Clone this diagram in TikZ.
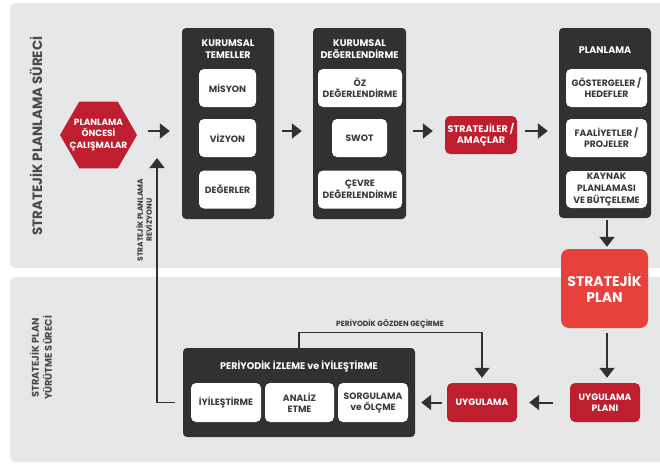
\documentclass[tikz,border=0pt]{standalone}
\usepackage{fontspec}
\setmainfont{Poppins}
\usetikzlibrary{arrows.meta,shapes.geometric}
\definecolor{panel}{HTML}{E6E7E8}
\definecolor{dark}{HTML}{323132}
\definecolor{dred}{HTML}{BE1E2D}
\definecolor{bred}{HTML}{E8403A}
\definecolor{txt}{HTML}{3A3A3A}
\definecolor{side}{HTML}{4A4A4A}
\newcommand{\fs}[2]{\fontsize{#1}{#2}\selectfont}
\begin{document}
\begin{tikzpicture}[x=1pt,y=-1pt,
  darkbox/.style={fill=dark, rounded corners=4pt, inner sep=0pt},
  wbox/.style={fill=white, rounded corners=5pt, inner sep=0pt, text=txt, align=center, font=\bfseries\fs{9.2}{11}, minimum height=38pt},
  rbox/.style={fill=dred, rounded corners=5pt, inner sep=0pt, text=white, align=center, font=\bfseries\fs{9.2}{11}, minimum height=38pt},
  dtitle/.style={text=white, align=center, font=\bfseries\fs{9.6}{11.5}, inner sep=0pt},
  arr/.style={draw=dark, line width=2pt, -{Triangle[width=15pt,length=10pt]}},
  conn/.style={draw=dark, line width=1.3pt, -{Triangle[width=15pt,length=10pt]}},
  sidet/.style={text=side, align=center, font=\bfseries, rotate=90, inner sep=0pt},
  small/.style={text=txt, align=center, font=\bfseries\fs{7.5}{9}, inner sep=0pt}
]
\useasboundingbox (0,0) rectangle (660,463);
\fill[white] (0,0) rectangle (660,463);
\fill[panel, rounded corners=6pt] (10,3) rectangle (690,268);
\fill[panel, rounded corners=6pt] (10,277) rectangle (690,462);

% side titles
\node[sidet, font=\bfseries\fs{13.5}{15}] (t1) at (36,136) {STRATEJİK PLANLAMA SÜRECİ};
\node[sidet, font=\bfseries\fs{9.8}{13}] (t2) at (41,358) {STRATEJİK PLAN\\YÜRÜTME SÜRECİ};

% hexagon
\node[regular polygon, regular polygon sides=6, minimum size=77pt, inner sep=0pt, fill=dred] (hex) at (98.5,135) {};
\node[text=white, align=center, font=\bfseries\fs{9}{11.5}, inner sep=0pt] (hext) at (hex.center) {PLANLAMA\\ÖNCESİ\\ÇALIŞMALAR};

% Kurumsal Temeller
\node[darkbox, minimum width=92pt, minimum height=191pt] (tem) at (228,123.5) {};
\node[dtitle] (temt) at (228,49) {KURUMSAL\\TEMELLER};
\node[wbox, minimum width=57pt] (mis) at (227.5,88) {MİSYON};
\node[wbox, minimum width=57pt] (viz) at (227.5,138) {VİZYON};
\node[wbox, minimum width=57pt] (deg) at (227.5,189.5) {DEĞERLER};

% Kurumsal Degerlendirme
\node[darkbox, minimum width=93pt, minimum height=191pt] (kd) at (359.5,123.5) {};
\node[dtitle] (kdt) at (359.5,49) {KURUMSAL\\DEĞERLENDİRME};
\node[wbox, minimum width=84pt] (oz) at (360,88) {ÖZ\\DEĞERLENDİRME};
\node[wbox, minimum width=55pt] (swot) at (359.5,138) {SWOT};
\node[wbox, minimum width=84pt] (cev) at (360,189.5) {ÇEVRE\\DEĞERLENDİRME};

% Stratejiler
\node[rbox, minimum width=72pt, font=\bfseries\fs{9.6}{11}] (str) at (481,135) {STRATEJİLER /\\AMAÇLAR};

% Planlama
\node[darkbox, minimum width=92pt, minimum height=190pt] (pl) at (605,123) {};
\node[dtitle] (plt) at (605,50) {PLANLAMA};
\node[wbox, minimum width=81pt] (gos) at (606.5,88) {GÖSTERGELER /\\HEDEFLER};
\node[wbox, minimum width=81pt] (faa) at (606.5,138) {FAALİYETLER /\\PROJELER};
\node[wbox, minimum width=81pt, minimum height=37pt, font=\bfseries\fs{9.2}{12}] (kay) at (606.5,189.5) {KAYNAK\\PLANLAMASI\\VE BÜTÇELEME};

% Stratejik plan
\node[fill=bred, rounded corners=8pt, minimum width=87pt, minimum height=79pt, text=white, align=center, font=\bfseries\fs{14}{16}, inner sep=0pt] (sp) at (604.5,288.5) {STRATEJİK\\PLAN};

% bottom row
\node[rbox, minimum width=70pt, minimum height=39pt] (up) at (605,402.5) {UYGULAMA\\PLANI};
\node[rbox, minimum width=70pt, minimum height=39pt] (uyg) at (482,402.5) {UYGULAMA};
\node[darkbox, minimum width=232pt, minimum height=89pt] (per) at (299,392.5) {};
\node[dtitle] (pert) at (299,366) {PERİYODİK İZLEME ve İYİLEŞTİRME};
\node[wbox, minimum width=70pt, minimum height=39pt] (iyi) at (226,402.5) {İYİLEŞTİRME};
\node[wbox, minimum width=69pt, minimum height=39pt] (ana) at (299.5,402.5) {ANALİZ\\ETME};
\node[wbox, minimum width=70pt, minimum height=39pt] (sor) at (373,402.5) {SORGULAMA\\ve ÖLÇME};

% arrows top row
\coordinate (row) at (0,131);
\draw[arr, shorten <=11pt, shorten >=12pt] (hex.east |- row) -- (tem.west |- row);
\draw[arr, shorten <=8pt, shorten >=11pt] (tem.east |- row) -- (kd.west |- row);
\draw[arr, shorten <=7pt, shorten >=12pt] (kd.east |- row) -- (str.west |- row);
\draw[arr, shorten <=8pt, shorten >=11pt] (str.east |- row) -- (pl.west |- row);

% vertical arrows
\coordinate (vx) at (607,0);
\draw[arr, shorten <=2pt, shorten >=2pt] (pl.south -| vx) -- (sp.north -| vx);
\draw[arr, shorten <=5pt, shorten >=5pt] (sp.south -| vx) -- (up.north -| vx);

% bottom arrows
\draw[arr, shorten <=17pt, shorten >=12pt] (up.west) -- (uyg.east);
\draw[arr, shorten <=5pt, shorten >=6pt] (uyg.west) -- (per.east |- uyg.west);

% periodic review
\draw[conn, shorten >=5pt] (per.north) -- ++(0,-15) -| (uyg.north);
\node[small] (pgl) at (390,324.5) {PERİYODİK GÖZDEN GEÇİRME};

% revision
\coordinate (revtip) at (157,158);
\draw[conn, shorten <=8pt] (per.west |- iyi.center) -| (revtip);
\node[small, rotate=90] (revl) at (144,220) {STRATEJİK PLANLAMA\\REVİZYONU};
\end{tikzpicture}
\end{document}
